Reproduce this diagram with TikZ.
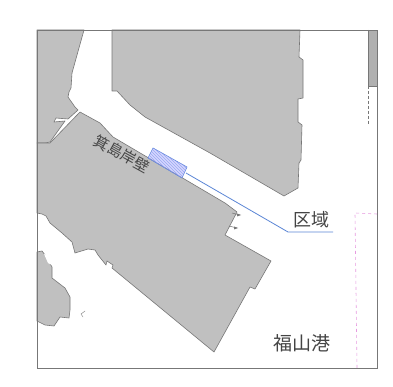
\documentclass[tikz,border=0pt]{standalone}
\usepackage{fontspec}
\newfontfamily\cjk{Noto Sans CJK JP}
\usetikzlibrary{patterns}
\definecolor{land}{HTML}{C0C0C0}
\definecolor{edge}{HTML}{777777}
\definecolor{strip}{HTML}{B0B0B0}
\definecolor{leader}{HTML}{5B86D6}
\definecolor{pinkline}{HTML}{E79AE0}
\definecolor{txt}{HTML}{444444}
\tikzset{
  landshape/.style={fill=land,draw=edge,line width=.6pt,line join=round},
  maplabel/.style={font=\cjk,text=txt,inner sep=0pt},
}
\begin{document}
\begin{tikzpicture}[x=1pt,y=-1pt]
\useasboundingbox (0,0) rectangle (393,387);
\fill[white] (0,0) rectangle (393,387);
% land A
\draw[landshape] (37,30) -- (84,30) -- (72,73) -- (71,88) -- (69,92) -- (68,97) -- (75,107) -- (78,110)
  -- (68,119) -- (56,118) -- (54,122) -- (65,121) -- (50,142) -- (45,143) -- (37,143) -- cycle;
% land B
\draw[landshape] (37,143) -- (50,143) -- (80,112) -- (100,123) -- (113,137) -- (225,203) -- (237,212)
  -- (225,235) -- (271,261) -- (255,289) -- (250,287) -- (214,352) -- (112,268) -- (113,265) -- (107,261)
  -- (106,265) -- (98,255) -- (95,250) -- (88,249) -- (75,253) -- (72,242) -- (62,233) -- (50,223)
  -- (46,216) -- (42,214) -- (37,213) -- cycle;
% land C
\draw[landshape] (37,252) -- (42,251) -- (45,255) -- (52,267) -- (52,278) -- (65,288) -- (70,297)
  -- (70,310) -- (69,318) -- (60,317) -- (54,326) -- (45,325) -- (37,321) -- cycle;
\fill[white] (44,254) -- (47,255) -- (52,265) -- (48,263) -- cycle;
% land D
\draw[landshape] (112,30) -- (112,91) -- (117,91) -- (130,105) -- (145,117) -- (210,153) -- (284,196)
  -- (298,188) -- (299,163) -- (301,160) -- (302,125) -- (298,122) -- (298,99) -- (303,98) -- (303,60)
  -- (299,57) -- (300,30) -- cycle;
% right strip
\fill[strip] (368,30) rectangle (377,86);
\draw[edge,line width=.6pt] (368,30) -- (368,86) -- (377,86);
\draw[edge,line width=.6pt,dashed,dash pattern=on 3pt off 2pt] (368,86) -- (368,125);
% islet mark
\draw[edge,line width=.4pt] (85,311) -- (81,314) -- (83,317);
% jetties
\draw[edge,line width=.5pt] (232,213) -- (240,215);
\draw[edge,line width=.5pt] (229,226) -- (237,228);
\fill[edge] (241,215) -- (237,213.5) -- (237,216.5) -- cycle;
\fill[edge] (238,228) -- (234,226.5) -- (234,229.5) -- cycle;
% port limit
\draw[pinkline,line width=.6pt,dashed] (377,214) -- (355,213) -- (357,368);
% frame
\draw[edge,line width=.9pt] (37,30) rectangle (377,368);
% zone
\node[maplabel,font=\cjk\fontsize{15}{15}\selectfont,rotate=-29] (kishi) at (122,154) {箕島岸壁};
\coordinate (bend) at (288,232);
\coordinate (tail) at (333,232);
\coordinate (start) at (186,173);
\draw[draw=leader,line width=.6pt,fill=blue!25,pattern=north west lines,pattern color=leader!60] (153,148) -- (148,158) -- (182,178) -- (187,167) -- cycle;
\fill[blue!40!white,opacity=.4] (153,148) -- (148,158) -- (182,178) -- (187,167) -- cycle;
\draw[leader,line width=.8pt] (start) -- (bend) -- (tail);
\node[maplabel,font=\cjk\fontsize{18}{18}\selectfont] (zone) at (311,220) {区域};
\node[maplabel,font=\cjk\fontsize{19}{19}\selectfont] (port) at (302,343) {福山港};
\end{tikzpicture}
\end{document}
